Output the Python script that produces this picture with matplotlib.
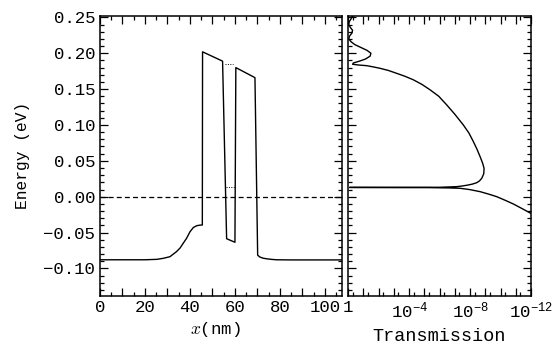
import matplotlib
matplotlib.use('Agg')
import matplotlib.pyplot as plt
import numpy as np
from matplotlib.ticker import MultipleLocator, FixedLocator, FuncFormatter, NullFormatter

plt.rcParams['font.family'] = ['Liberation Mono', 'DejaVu Sans']
plt.rcParams['mathtext.fontset'] = 'cm'

# Conduction-band potential profile (x in nm, energy in eV)
pot_x = [0, 15, 20, 25.2, 28.1, 31.1, 34.0, 35.6, 37.0, 38.5, 40.0, 41.5, 43.0, 44.4, 45.5,
         45.6, 54.5, 56.3, 60.0, 60.4, 68.9, 70.1, 71.0, 72.5, 74.5, 76.5, 78.5, 85, 108]
pot_E = [-0.088, -0.088, -0.0880, -0.0874, -0.0860, -0.0837, -0.0767, -0.0716, -0.0650,
         -0.0580, -0.0490, -0.0430, -0.0405, -0.0397, -0.0395,
         0.202, 0.189, -0.0586, -0.0636, 0.180, 0.166, -0.0815, -0.0840, -0.0858, -0.0868,
         -0.0875, -0.0880, -0.0882, -0.0882]

# Quasi-bound levels (dotted segments)
level_E = [0.185, 0.013]
level_x0 = [55.6, 56.0]
level_x1 = [59.3, 60.0]

# Transmission curve: energy (eV) and log10(T)
trans_E = [0.2524, 0.248, 0.244, 0.240, 0.236, 0.232, 0.228, 0.224, 0.220, 0.216, 0.212,
           0.208, 0.204, 0.200, 0.196, 0.192, 0.189, 0.1865,
           0.1846, 0.1835, 0.1827, 0.1810, 0.1790, 0.1760, 0.1720, 0.1680, 0.1630, 0.1565,
           0.1490, 0.1400, 0.1280, 0.1150, 0.1000, 0.0890, 0.0767, 0.0660, 0.0558, 0.0470,
           0.0396, 0.0320, 0.0257, 0.0220, 0.0195, 0.0175, 0.0159, 0.0148, 0.0140, 0.0131,
           0.0130, 0.0129,
           0.0127, 0.0126, 0.0122, 0.0117, 0.0100, 0.0070, 0.0037, 0.0000, -0.0050,
           -0.0102, -0.0165, -0.0232]
trans_logT = [-0.30, -0.20, -0.08, -0.05, -0.15, -0.30, -0.25, -0.10, -0.05, -0.20, -0.45,
              -0.85, -1.25, -1.50, -1.45, -1.15, -0.75, -0.35,
              -0.30, -0.75, -1.22, -1.65, -2.10, -2.65, -3.19, -3.72, -4.28, -4.85,
              -5.38, -5.95, -6.47, -7.00, -7.56, -7.92, -8.22, -8.46, -8.66, -8.82,
              -8.92, -8.90, -8.77, -8.62, -8.44, -8.15, -7.78, -7.45, -7.13, -6.03,
              -3.0, -0.10,
              -3.0, -5.38, -6.60, -7.34, -7.95, -8.66, -9.20, -9.75, -10.30,
              -10.84, -11.40, -11.98]

x_ticks = [0, 20, 40, 60, 80, 100]
t_major = [0, -4, -8, -12]
t_labels = ['1', r'$\mathregular{10^{-4}}$', r'$\mathregular{10^{-8}}$', r'$\mathregular{10^{-12}}$']

YLIM = (-0.1385, 0.2524)

fig = plt.figure(figsize=(5.58, 3.47), dpi=100)
ax1 = fig.add_axes([0.1792, 0.147, 0.4337, 0.8078])
ax2 = fig.add_axes([0.6237, 0.147, 0.3280, 0.8078])

lw = 1.0
ax1.plot(pot_x, pot_E, color='black', lw=lw)
ax1.axhline(0.0, color='black', lw=0.9, ls=(0, (4, 2.5)))
for e, a, b in zip(level_E, level_x0, level_x1):
    ax1.plot([a, b], [e, e], color='black', lw=0.7, ls=(0, (1, 1.5)))

ax1.set_xlim(0, 107.6)
ax1.set_ylim(*YLIM)

ax1.xaxis.set_major_locator(MultipleLocator(10))
ax1.xaxis.set_minor_locator(MultipleLocator(5))
ax1.xaxis.set_major_formatter(FuncFormatter(lambda v, p: f"{int(round(v))}" if int(round(v)) in x_ticks else ""))
ax1.yaxis.set_major_locator(MultipleLocator(0.05))
ax1.yaxis.set_minor_locator(MultipleLocator(0.01))
ax1.yaxis.set_major_formatter(FuncFormatter(lambda v, p: ("\u2212" if v < -1e-9 else "") + f"{abs(v):.2f}"))

T = 10.0 ** np.array(trans_logT)
ax2.plot(T, trans_E, color='black', lw=lw)
ax2.set_xscale('log')
ax2.set_xlim(1, 1e-12)
ax2.set_ylim(*YLIM)
decades = [10.0 ** (-k) for k in range(0, 13)]
ax2.xaxis.set_major_locator(FixedLocator(decades))
ax2.xaxis.set_minor_locator(FixedLocator([0.5 * 10.0 ** (-k) for k in range(0, 12)]))
lab_map = {m: l for m, l in zip(t_major, t_labels)}
ax2.xaxis.set_major_formatter(FuncFormatter(lambda v, p: lab_map.get(int(round(np.log10(v))), "")))
ax2.xaxis.set_minor_formatter(NullFormatter())
ax2.yaxis.set_major_locator(MultipleLocator(0.05))
ax2.yaxis.set_minor_locator(MultipleLocator(0.01))
ax2.yaxis.set_major_formatter(NullFormatter())

for ax in (ax1, ax2):
    for s in ax.spines.values():
        s.set_linewidth(1.1)
    ax.tick_params(which='both', direction='in', top=True, right=True, left=True, bottom=True,
                   width=0.9, labelsize=12.5, colors='black')
    ax.tick_params(which='major', length=5.5)
    ax.tick_params(which='minor', length=3)
    ax.tick_params(axis='x', pad=3)
    ax.tick_params(axis='y', pad=3.5)

ax1.set_ylabel('Energy (eV)', fontsize=11.7)
ax1.yaxis.set_label_coords(-0.29, 0.5)
ax1.set_xlabel(r'$x$(nm)', fontsize=12.5)
ax1.xaxis.set_label_coords(0.475, -0.085)
ax2.set_xlabel('Transmission', fontsize=13.3)
ax2.xaxis.set_label_coords(0.5, -0.115)

fig.savefig('out.png', dpi=100)
